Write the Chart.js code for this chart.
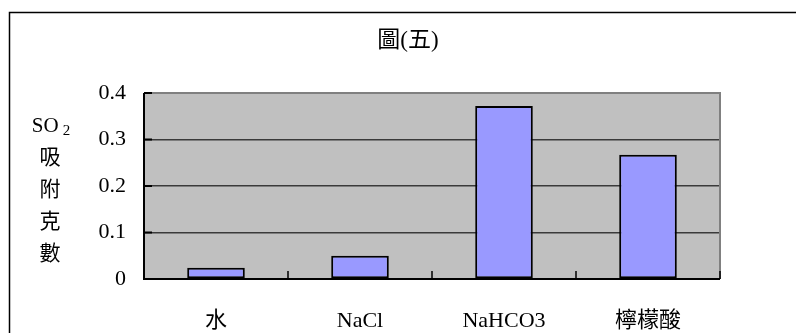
<!DOCTYPE html>
<html>
<head>
<meta charset="utf-8">
<script src="https://cdn.jsdelivr.net/npm/chart.js@4.4.1/dist/chart.umd.min.js"></script>
<style>
  html, body { margin: 0; padding: 0; background: #fff; }
  #wrap { width: 796px; height: 333px; }
</style>
</head>
<body>
<div id="wrap"><canvas id="c" width="796" height="333"></canvas></div>
<script>
// Chart data
const categories = ['水', 'NaCl', 'NaHCO3', '檸檬酸'];
const adsorbed = [0.024, 0.05, 0.372, 0.267];
const yTicks = [0, 0.1, 0.2, 0.3, 0.4];
const titleText = '圖(五)';
const yTitleMain = 'SO';
const yTitleSub = '2';
const yTitleChars = ['吸', '附', '克', '數'];

const FONT = "'Liberation Serif', 'Noto Sans CJK TC', serif";

// Frame, plot background, title, inner tick marks and the stacked vertical axis label
const decor = {
  id: 'decor',
  beforeDraw(chart) {
    const { ctx, chartArea: a } = chart;
    ctx.save();
    ctx.fillStyle = '#ffffff';
    ctx.fillRect(0, 0, chart.width, chart.height);
    // outer frame (only top and left edges fall inside the canvas)
    ctx.strokeStyle = '#000';
    ctx.lineWidth = 1.5;
    ctx.beginPath();
    ctx.moveTo(9.5, chart.height + 2);
    ctx.lineTo(9.5, 12.5);
    ctx.lineTo(chart.width + 2, 12.5);
    ctx.stroke();
    // plot area fill
    ctx.fillStyle = '#C0C0C0';
    ctx.fillRect(a.left, a.top, a.right - a.left, a.bottom - a.top);
    // chart title
    ctx.fillStyle = '#000';
    ctx.font = '23px ' + FONT;
    ctx.textAlign = 'center';
    ctx.textBaseline = 'middle';
    ctx.fillText(titleText, 408, 41);
    ctx.restore();
  },
  afterDatasetsDraw(chart) {
    const { ctx, chartArea: a, scales } = chart;
    ctx.save();
    // gray border on top and right
    ctx.strokeStyle = '#808080';
    ctx.lineWidth = 2;
    ctx.beginPath();
    ctx.moveTo(a.left, a.top);
    ctx.lineTo(a.right, a.top);
    ctx.lineTo(a.right, a.bottom);
    ctx.stroke();
    // black axes
    ctx.strokeStyle = '#000';
    ctx.lineWidth = 2;
    ctx.beginPath();
    ctx.moveTo(a.left, a.top);
    ctx.lineTo(a.left, a.bottom);
    ctx.lineTo(a.right, a.bottom);
    ctx.stroke();
    // y tick marks pointing inward
    scales.y.ticks.forEach(t => {
      const y = scales.y.getPixelForValue(t.value);
      ctx.beginPath();
      ctx.moveTo(a.left, y);
      ctx.lineTo(a.left + 8, y);
      ctx.stroke();
    });
    // x tick marks at category boundaries, pointing upward
    ctx.lineWidth = 1.5;
    const xs = scales.x;
    const half = (xs.getPixelForValue(1) - xs.getPixelForValue(0)) / 2;
    for (let i = 0; i < categories.length; i++) {
      const x = xs.getPixelForValue(i) + half;
      ctx.beginPath();
      ctx.moveTo(x, a.bottom);
      ctx.lineTo(x, a.bottom - 8);
      ctx.stroke();
    }
    // stacked vertical axis title
    ctx.fillStyle = '#000';
    ctx.textBaseline = 'middle';
    const cx = 51;
    const step = 32;
    let y = 126;
    ctx.font = '21px ' + FONT;
    const wMain = ctx.measureText(yTitleMain).width;
    ctx.font = '15px ' + FONT;
    const wSub = ctx.measureText(yTitleSub).width;
    const start = cx - (wMain + 4 + wSub) / 2;
    ctx.font = '21px ' + FONT;
    ctx.textAlign = 'left';
    ctx.fillText(yTitleMain, start, y);
    ctx.font = '15px ' + FONT;
    ctx.fillText(yTitleSub, start + wMain + 4, y + 5);
    ctx.font = '21px ' + FONT;
    ctx.textAlign = 'center';
    yTitleChars.forEach(ch => {
      y += step;
      ctx.fillText(ch, cx - 1, y);
    });
    ctx.restore();
  }
};

new Chart(document.getElementById('c'), {
  type: 'bar',
  data: {
    labels: categories,
    datasets: [{
      data: adsorbed,
      backgroundColor: '#9999FF',
      borderColor: '#000',
      borderWidth: 2,
      borderSkipped: false,
      categoryPercentage: 1.0,
      barPercentage: 0.4
    }]
  },
  options: {
    responsive: false,
    animation: false,
    devicePixelRatio: 1,
    layout: { padding: { top: 93, right: 76, left: 0, bottom: 0 } },
    plugins: {
      legend: { display: false },
      tooltip: { enabled: false },
      title: { display: false }
    },
    scales: {
      x: {
        grid: { display: false, drawTicks: false },
        border: { display: false },
        ticks: {
          color: '#000',
          padding: 29,
          font: { family: FONT, size: 22 }
        },
        afterFit(s) { s.height = 54; }
      },
      y: {
        min: 0,
        max: 0.4,
        afterBuildTicks(s) { s.ticks = yTicks.map(v => ({ value: v })); },
        grid: { color: '#3a3a3a', lineWidth: 1.5, drawTicks: false },
        border: { display: false },
        ticks: {
          color: '#000',
          padding: 18,
          font: { family: FONT, size: 22 },
          callback: v => String(v)
        },
        afterFit(s) { s.width = 144; }
      }
    }
  },
  plugins: [decor]
});
</script>
</body>
</html>
